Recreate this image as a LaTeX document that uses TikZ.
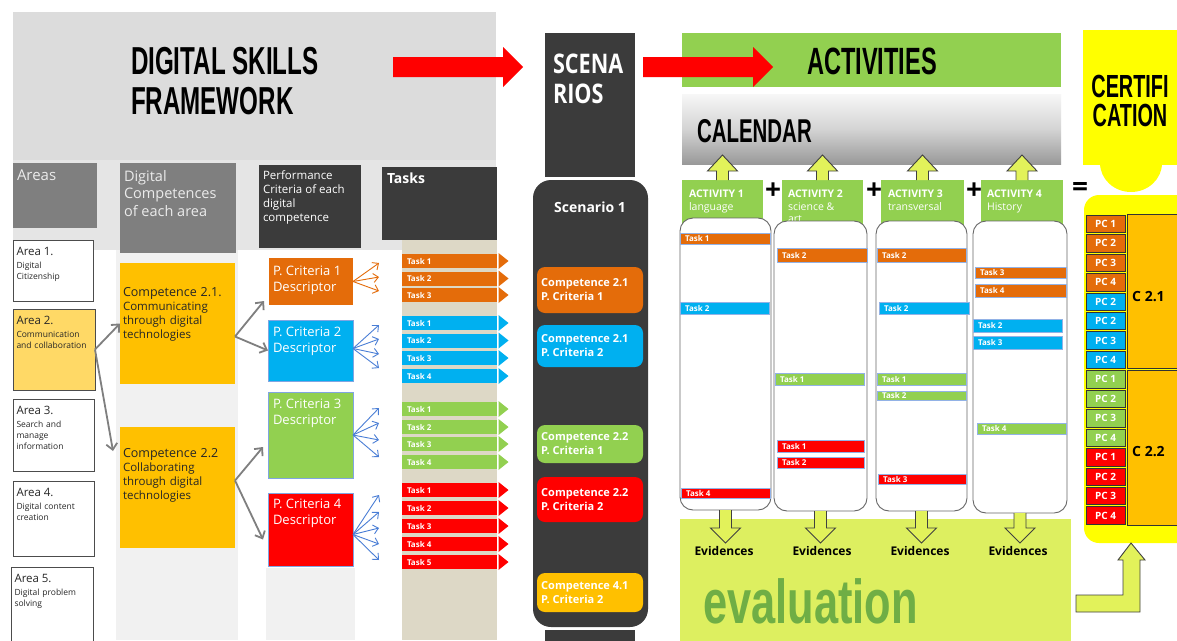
\documentclass[tikz,border=0pt]{standalone}
\usepackage{fontspec}
\setmainfont{Open Sans}
\newfontfamily\condfont[FakeStretch=0.62]{Liberation Sans}
\newfontfamily\evalfont[FakeStretch=0.70]{Liberation Sans}
\newfontfamily\narrowfont[FakeStretch=0.80]{Open Sans}
\usetikzlibrary{arrows.meta,calc}

\definecolor{panelgrey}{HTML}{DCDCDC}
\definecolor{panellight}{HTML}{E5E5E5}
\definecolor{colgrey}{HTML}{F1F1F1}
\definecolor{midgrey}{HTML}{7F7F7F}
\definecolor{darkgrey}{HTML}{3B3B3B}
\definecolor{cOrange}{HTML}{E46C0A}
\definecolor{cBlue}{HTML}{00B0F0}
\definecolor{cGreen}{HTML}{92D050}
\definecolor{cRed}{HTML}{FF0000}
\definecolor{cAmber}{HTML}{FFC000}
\definecolor{areaYellow}{HTML}{FFD966}
\definecolor{taskBeige}{HTML}{DDD8C6}
\definecolor{evalGreen}{HTML}{DDEF60}
\definecolor{arrowFill}{HTML}{E2F25A}
\definecolor{evalText}{HTML}{6FAE45}
\definecolor{fanBlue}{HTML}{4A7ED6}
\definecolor{certYellow}{HTML}{FFFF00}

\newcommand\fsz[2]{\fontsize{#1}{#2}\selectfont}
% box node from its top-left and bottom-right corners
\newcommand\panel[6]{\node[#6, anchor=north west, inner sep=0pt, outer sep=0pt,
  minimum width={(#4)-(#2)}, minimum height={(#5)-(#3)}] (#1) at (#2,#3) {};}
% area box with title and subtitle
\newcommand\areabox[8]{%
  \panel{#1}{#2}{#3}{#4}{#5}{areabox, fill=#6}
  \node[txt, text width=76pt, text=black!85, font=\fsz{8.5}{11}] (#1t)
    at ([xshift=3.5pt,yshift=-7pt]#1.north west) {{\fsz{11.5}{13}#7\par}\vspace{2.5pt}#8};}
% task arrow in the task column
\newcommand\taskbar[4]{%
  \node[fill=#3, anchor=west, minimum width=95pt, minimum height=14pt, inner sep=0pt, outer sep=0pt] (#1) at (402,#2) {};
  \fill[#3] ([xshift=1.5pt]#1.east) ++(0,-8) -- ++(10,8) -- ++(-10,8) -- cycle;
  \node[tasklbl] (#1t) at ([xshift=5pt]#1.west) {#4};}
% task bar inside an activity column
\newcommand\ctask[7]{%
  \panel{#1}{#2}{#3}{#4}{#5}{fill=#6, draw=fanBlue!60, line width=0.5pt}
  \node[tasklbl] (#1t) at ([xshift=5pt]#1.west) {#7};}
% block arrows, open at the base
\newcommand\blockup[2]{\draw[blockarrow] ([xshift=-6pt]#1) -- ++(0,{-(#2)+16}) -- ++(-9,0) -- ++(15,-16) -- ++(15,16) -- ++(-9,0) -- ++(0,{(#2)-16});}
\newcommand\blockdown[2]{\draw[blockarrow] ([xshift=-6pt]#1) -- ++(0,{(#2)-15}) -- ++(-9,0) -- ++(15,15) -- ++(15,-15) -- ++(-9,0) -- ++(0,{-(#2)+15});}

\begin{document}
\begin{tikzpicture}[x=1pt,y=-1pt,
  txt/.style={inner sep=0pt, outer sep=0pt, anchor=north west, align=left},
  hdrbox/.style={fill=midgrey},
  darkbox/.style={fill=darkgrey},
  areabox/.style={draw=black!70, line width=0.8pt},
  compbox/.style={fill=cAmber},
  critbox/.style={fill=#1, draw=fanBlue!70, line width=0.5pt},
  link/.style={draw=midgrey, line width=1.8pt, -{Straight Barb[length=6pt,width=11pt]}},
  fan/.style={draw=#1, line width=0.9pt, -{Straight Barb[length=5pt,width=9pt]}},
  tasklbl/.style={inner sep=0pt, outer sep=0pt, anchor=west, text=white, font=\bfseries\fsz{8}{9}},
  scenitem/.style={fill=#1, rounded corners=8pt},
  scenlbl/.style={inner sep=0pt, anchor=west, align=left, text=white, font=\bfseries\fsz{11}{14}},
  actcol/.style={fill=white, draw=black!60, line width=0.9pt, rounded corners=13pt},
  blockarrow/.style={fill=arrowFill, draw=black!75, line width=0.9pt, line join=miter},
  pccell/.style={fill=#1, draw=black!80, line width=0.6pt},
  bigcap/.style={inner sep=0pt, outer sep=0pt, font=\condfont\bfseries\fsz{38}{40}},
  acttxt/.style={txt, text=white, font=\fsz{10.5}{12.5}},
  evid/.style={inner sep=0pt, font=\bfseries\fsz{12}{13}},
  plus/.style={inner sep=0pt, font=\bfseries\fsz{28}{28}},
]
\fill[white] (0,0) rectangle (1177,640);
\useasboundingbox (0,0) rectangle (1177,640);

% ---------- framework panel ----------
\fill[panelgrey] (13,12) rectangle (496,160);
\fill[panellight] (13,160) rectangle (496,250);
\fill[colgrey] (116,250) rectangle (238,640);
\fill[colgrey] (266,568) rectangle (355,640);
\fill[taskBeige] (402,240) rectangle (497,640);

\node[txt, font=\condfont\bfseries\fsz{39}{40}] (title) at (131,47) {DIGITAL SKILLS\\FRAMEWORK};

\panel{hAreas}{13}{163}{97}{228}{hdrbox}
\node[txt, text=white!92!black, font=\fsz{15}{17.5}] (hAreasT) at (17,170) {Areas};
\panel{hComp}{120}{163}{236}{253}{hdrbox}
\node[txt, text=white!92!black, font=\fsz{14.5}{17.5}] (hCompT) at (124,170) {Digital\\Competences\\of each area};
\panel{hCrit}{259}{165}{361}{248}{darkbox}
\node[txt, text=white, font=\fsz{11.5}{14}] (hCritT) at (263,171) {Performance\\Criteria of each\\digital\\competence};
\panel{hTask}{382}{167}{497}{240}{darkbox}
\node[txt, text=white, font=\bfseries\fsz{14}{16}] (hTaskT) at (387,173) {Tasks};

\areabox{area1}{13}{240}{93}{301}{white}{Area 1.}{Digital\\Citizenship}
\areabox{area2}{13}{309}{95}{390}{areaYellow}{Area 2.}{Communication\\and collaboration}
\areabox{area3}{13}{399}{94}{471}{white}{Area 3.}{Search and\\manage\\information}
\areabox{area4}{13}{481}{94}{556}{white}{Area 4.}{Digital content\\creation}
\areabox{area5}{11}{567}{93}{648}{white}{Area 5.}{Digital problem\\solving}

\panel{comp21}{120}{263}{235}{384}{compbox}
\node[txt, text width=115pt, text=black!85, font=\fsz{11.5}{14}] (comp21t) at (123,287)
  {{\fsz{12.5}{14}Competence 2.1.\par}Communicating\\through digital\\technologies};
\panel{comp22}{120}{427}{235}{548}{compbox}
\node[txt, text width=115pt, text=black!85, font=\fsz{11.5}{14}] (comp22t) at (123,448)
  {{\fsz{12.5}{14}Competence 2.2\par}Collaborating\\through digital\\technologies};

\panel{pc1}{269}{258}{353}{305}{fill=cOrange}
\node[txt, text=white, font=\fsz{13}{16}] (pc1t) at (273,266) {P. Criteria 1\\Descriptor};
\panel{pc2}{268}{320}{353}{381}{critbox=cBlue}
\node[txt, text=white, font=\fsz{13}{16}] (pc2t) at (273,327) {P. Criteria 2\\Descriptor};
\panel{pc3}{268}{392}{353}{478}{critbox=cGreen}
\node[txt, text=white, font=\fsz{13}{16}] (pc3t) at (273,399) {P. Criteria 3\\Descriptor};
\panel{pc4}{268}{493}{353}{566}{critbox=cRed}
\node[txt, text=white, font=\fsz{13}{16}] (pc4t) at (273,499) {P. Criteria 4\\Descriptor};

% links area -> competences -> criteria
\draw[link] (area2.east) -- (comp21.west);
\draw[link] (area2.east) -- ($(comp22.north west)+(-7,24)$);
\draw[link] ($(comp21.east)+(0,13)$) -- ($(pc1.south west)+(-5,-4)$);
\draw[link] ($(comp21.east)+(0,13)$) -- (pc2.west);
\draw[link] ($(comp22.east)+(0,-7)$) -- ($(pc3.west)+(-5,12)$);
\draw[link] ($(comp22.east)+(0,-7)$) -- ($(pc4.west)+(-5,10)$);

% criteria -> tasks fans
\foreach [count=\k] \ty in {263,277,291} {\coordinate (fa\k) at (379,\ty); \draw[fan=cOrange] (pc1.east) -- (fa\k);}
\foreach [count=\k] \ty in {325,339,354,368} {\coordinate (fb\k) at (379,\ty); \draw[fan=fanBlue] ($(pc2.east)+(0,-2)$) -- (fb\k);}
\foreach [count=\k] \ty in {408,423,440,457} {\coordinate (fc\k) at (379,\ty); \draw[fan=fanBlue] (pc3.east) -- (fc\k);}
\foreach [count=\k] \ty in {495,512,528,544,560} {\coordinate (fd\k) at (379,\ty); \draw[fan=fanBlue] ($(pc4.east)+(0,5)$) -- (fd\k);}

% task arrows
\foreach [count=\k] \ty in {261,278.5,295} {\taskbar{to\k}{\ty}{cOrange}{Task \k}}
\foreach [count=\k] \ty in {323,340.5,358,376} {\taskbar{tb\k}{\ty}{cBlue}{Task \k}}
\foreach [count=\k] \ty in {409,427,444,462} {\taskbar{tg\k}{\ty}{cGreen}{Task \k}}
\foreach [count=\k] \ty in {490,508,526,544,562} {\taskbar{tr\k}{\ty}{cRed}{Task \k}}

% ---------- scenarios ----------
\panel{scen}{545}{33}{635}{177}{darkbox}
\node[txt, text=white, font=\narrowfont\bfseries\fsz{27}{30}] (scenT) at (553,54) {SCENA\\RIOS};
\panel{scen1}{533}{180}{648}{627}{darkbox, rounded corners=18pt}
\panel{scenfoot}{545}{630}{635}{645}{darkbox}
\node[inner sep=0pt, text=white, font=\bfseries\fsz{14}{16}] (scen1T) at (590,207) {Scenario 1};
\panel{si1}{537}{267}{643}{313}{scenitem=cOrange}
\node[scenlbl] (si1t) at ([xshift=4pt]si1.west) {Competence 2.1\\P. Criteria 1};
\panel{si2}{537}{325}{643}{367}{scenitem=cBlue}
\node[scenlbl] (si2t) at ([xshift=4pt]si2.west) {Competence 2.1\\P. Criteria 2};
\panel{si3}{537}{425}{643}{463}{scenitem=cGreen}
\node[scenlbl] (si3t) at ([xshift=4pt]si3.west) {Competence 2.2\\P. Criteria 1};
\panel{si4}{537}{477}{643}{522}{scenitem=cRed}
\node[scenlbl] (si4t) at ([xshift=4pt]si4.west) {Competence 2.2\\P. Criteria 2};
\panel{si5}{537}{573}{643}{612}{scenitem=cAmber}
\node[scenlbl] (si5t) at ([xshift=4pt]si5.west) {Competence 4.1\\P. Criteria 2};

% ---------- activities ----------
\panel{actbar}{682}{33}{1061}{87}{fill=cGreen}
\node[bigcap] (actT) at (872,61) {ACTIVITIES};
\panel{cal}{682}{94}{1061}{164}{top color=white!97!black, bottom color=black!40, middle color=black!17}
\node[bigcap, anchor=west, font=\condfont\bfseries\fsz{33}{35}] (calT) at (697,131) {CALENDAR};

% ---------- red arrows ----------
\coordinate (ra1s) at (393,67); \coordinate (ra1e) at (523,67);
\fill[cRed] ($(ra1s)+(0,-10)$) -- ($(ra1e)+(-20,-10)$) -- ($(ra1e)+(-20,-20)$) -- (ra1e)
  -- ($(ra1e)+(-20,20)$) -- ($(ra1e)+(-20,10)$) -- ($(ra1s)+(0,10)$) -- cycle;
\coordinate (ra2s) at (643,67); \coordinate (ra2e) at (773,67);
\fill[cRed] ($(ra2s)+(0,-10)$) -- ($(ra2e)+(-20,-10)$) -- ($(ra2e)+(-20,-20)$) -- (ra2e)
  -- ($(ra2e)+(-20,20)$) -- ($(ra2e)+(-20,10)$) -- ($(ra2s)+(0,10)$) -- cycle;

\panel{act1}{682}{180}{763}{226}{fill=cGreen}
\panel{act2}{782}{180}{863}{226}{fill=cGreen}
\panel{act3}{881}{180}{964}{226}{fill=cGreen}
\panel{act4}{981}{180}{1063}{226}{fill=cGreen}
\node[acttxt] (act1t) at (689,190) {\textbf{ACTIVITY 1}\\language};
\node[acttxt] (act2t) at (788,190) {\textbf{ACTIVITY 2}\\science \&\\art};
\node[acttxt] (act3t) at (888,190) {\textbf{ACTIVITY 3}\\transversal};
\node[acttxt] (act4t) at (987,190) {\textbf{ACTIVITY 4}\\History};
\blockup{act1.north}{25}
\blockup{act2.north}{25}
\blockup{act3.north}{25}
\blockup{act4.north}{25}
\node[plus] (plus1) at (773,191) {+};
\node[plus] (plus2) at (874,191) {+};
\node[plus] (plus3) at (974,191) {+};
\node[plus] (equals) at (1080,189) {=};

% evaluation area
\panel{evalbox}{680}{519}{1071}{645}{fill=evalGreen}

\panel{col1}{680}{218}{771}{510}{actcol}
\panel{col2}{774}{221}{867}{511}{actcol}
\panel{col3}{876}{221}{967}{511}{actcol}
\panel{col4}{973}{221}{1067}{513}{actcol}

\ctask{ca1}{680}{233}{770}{244}{cOrange}{Task 1}
\ctask{ca2}{680}{302}{769}{314}{cBlue}{Task 2}
\ctask{ca3}{681}{488}{770}{498}{cRed}{Task 4}
\ctask{cb1}{777}{248}{867}{262}{cOrange}{Task 2}
\ctask{cb2}{775}{373}{864}{385}{cGreen}{Task 1}
\ctask{cb3}{777}{440}{864}{452}{cRed}{Task 1}
\ctask{cb4}{777}{457}{864}{468}{cRed}{Task 2}
\ctask{cc1}{877}{248}{966}{262}{cOrange}{Task 2}
\ctask{cc2}{879}{302}{969}{314}{cBlue}{Task 2}
\ctask{cc3}{877}{373}{966}{385}{cGreen}{Task 1}
\ctask{cc4}{877}{391}{966}{400}{cGreen}{Task 2}
\ctask{cc5}{878}{474}{966}{484}{cRed}{Task 3}
\ctask{cd1}{975}{267}{1066}{278}{cOrange}{Task 3}
\ctask{cd2}{975}{284}{1066}{297}{cOrange}{Task 4}
\ctask{cd3}{973}{319}{1062}{332}{cBlue}{Task 2}
\ctask{cd4}{973}{336}{1062}{349}{cBlue}{Task 3}
\ctask{cd5}{977}{423}{1066}{434}{cGreen}{Task 4}

\blockdown{col1.south}{33}
\blockdown{col2.south}{32}
\blockdown{col3.south}{32}
\blockdown{col4.south}{30}
\node[evid] (ev1) at (724,551) {Evidences};
\node[evid] (ev2) at (822,551) {Evidences};
\node[evid] (ev3) at (920,551) {Evidences};
\node[evid] (ev4) at (1018,551) {Evidences};
\node[anchor=base west, inner sep=0pt, text=evalText, font=\evalfont\bfseries\fsz{62}{62}] (evalT) at (703,623) {evaluation};

% ---------- certification ----------
\panel{cert}{1083}{30}{1200}{165}{fill=certYellow}
\fill[certYellow] (1131,163) ellipse [x radius=31pt, y radius=29pt];
\node[inner sep=0pt, align=center, font=\condfont\bfseries\fsz{32}{29}] (certT) at (1130,101) {CERTIFI\\CATION};

\panel{pcwrap}{1084}{195}{1200}{543}{fill=certYellow, rounded corners=15pt}
\foreach \k/\col/\lab in {0/cOrange/PC 1,1/cOrange/PC 2,2/cOrange/PC 3,3/cOrange/PC 4,
    4/cBlue/PC 2,5/cBlue/PC 2,6/cBlue/PC 3,7/cBlue/PC 4,
    8/cGreen/PC 1,9/cGreen/PC 2,10/cGreen/PC 3,11/cGreen/PC 4,
    12/cRed/PC 1,13/cRed/PC 2,14/cRed/PC 3,15/cRed/PC 4} {
  \panel{pcc\k}{1086}{214+19.45*\k+1}{1125}{214+19.45*\k+18.45}{pccell=\col}
  \node[inner sep=0pt, text=white, font=\bfseries\fsz{10}{11}] (pcl\k) at (pcc\k) {\lab};
}
\panel{c21}{1127}{214}{1200}{368.5}{fill=cAmber, draw=black!80, line width=0.6pt}
\node[anchor=west, inner sep=0pt, font=\bfseries\fsz{14}{15}] (c21t) at (1132,297) {C 2.1};
\panel{c22}{1127}{370.5}{1200}{525}{fill=cAmber, draw=black!80, line width=0.6pt}
\node[anchor=west, inner sep=0pt, font=\bfseries\fsz{14}{15}] (c22t) at (1132,452) {C 2.2};

% evaluation feeds certification
\coordinate (lstart) at (1076,595);
\coordinate (lt) at ($(pcwrap.south west)+(47,0)$);
\draw[blockarrow] (lstart) -- ($(lt)+(-8,52)$) -- ($(lt)+(-8,17)$) -- ($(lt)+(-13,17)$) -- (lt)
  -- ($(lt)+(14,17)$) -- ($(lt)+(9,17)$) -- ($(lt)+(9,69)$) -- ($(lstart)+(0,17)$) -- cycle;
\end{tikzpicture}
\end{document}
